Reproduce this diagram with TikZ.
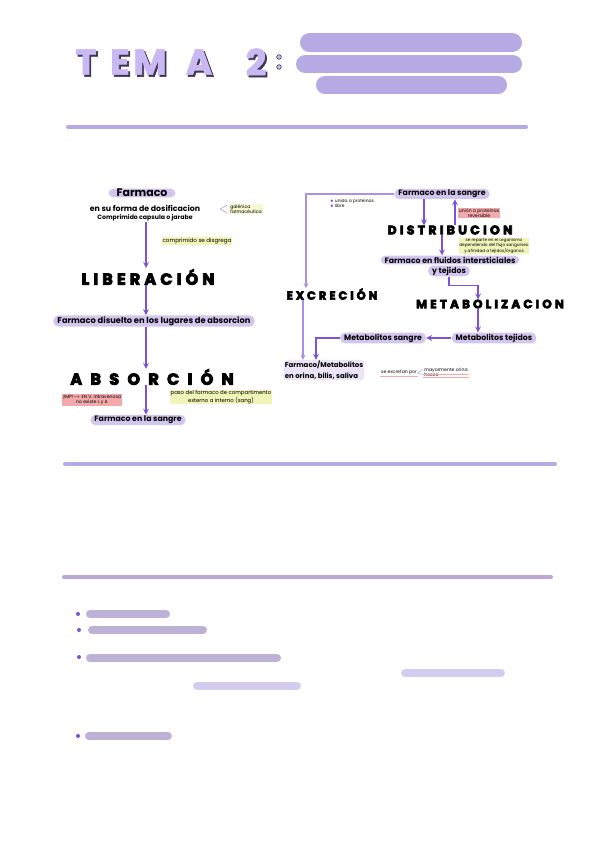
\documentclass[tikz,border=0pt]{standalone}
\usepackage{fontspec}
\setmainfont{Poppins}
\newfontfamily\spacedfont[LetterSpace=26, FakeBold=5]{Poppins}
\newfontfamily\titlefont[FakeBold=2]{Poppins}
\usetikzlibrary{arrows,positioning}
\definecolor{lilac}{HTML}{B5AAE3}
\definecolor{pillfill}{HTML}{D3C6EE}
\definecolor{arrowc}{HTML}{7B52D9}
\definecolor{paleline}{HTML}{A892E3}
\definecolor{mauve}{HTML}{BBA6D4}
\definecolor{greybar}{HTML}{BDB2D6}
\definecolor{softbar}{HTML}{D4CCF0}
\definecolor{hiyellow}{HTML}{F1F4B8}
\definecolor{hired}{HTML}{F3A9AC}
\definecolor{titledark}{HTML}{3E3550}
\definecolor{titlelight}{HTML}{C9B8F2}

\begin{document}
\begin{tikzpicture}[
	x=1pt, y=-1pt,
	pill/.style={fill=pillfill, rounded corners=5pt, inner xsep=4pt, inner ysep=1.2pt, font=\fontsize{7.8}{8.5}\selectfont\bfseries},
	stage/.style={font=\spacedfont\bfseries\fontsize{#1}{#1}\selectfont, inner sep=0pt},
	stage/.default=12,
	note/.style={font=\fontsize{4.6}{5.2}\selectfont, inner sep=0.8pt, align=center},
	arrow/.style={-stealth, line width=1.6pt, arrowc},
	feed/.style={-stealth, line width=1.2pt, paleline},
	bullet/.style={circle, fill=arrowc, inner sep=0pt, minimum size=4pt}
	]
	\useasboundingbox (0,0) rectangle (599,848);
	
	% Title
	\foreach \l/\x in {T/86, E/120, M/150, A/199, 2/256}{
		\node[font=\titlefont\bfseries\fontsize{36}{36}\selectfont, text=titledark] at (\x+1.8,64) {\l};
		\node[font=\titlefont\bfseries\fontsize{36}{36}\selectfont, text=titlelight] at (\x,62) {\l};
	}
	\draw[titledark, fill=titlelight, line width=0.6pt] (279,57) circle (2.3) (279,67) circle (2.3);
	
	% Title bars
	\draw[line cap=round, line width=19pt, lilac] (309.5,42.5) -- (512.5,42.5);
	\draw[line cap=round, line width=18pt, lilac] (305,64) -- (513,64);
	\draw[line cap=round, line width=18pt, lilac] (325,85) -- (498,85);
	\draw[line cap=round, line width=4pt, lilac] (68,127) -- (526,127);
	
	% Left flow: liberacion - absorcion
	\node[pill, font=\fontsize{11}{12}\selectfont\bfseries, inner ysep=0.5pt, inner xsep=8pt] (farm) at (142,193) {Farmaco};
	\node[font=\fontsize{7.8}{8.5}\selectfont\bfseries, inner sep=0.5pt] (dosif) at (145,208) {en su forma de dosificacion};
	\node[font=\fontsize{6.2}{7}\selectfont\bfseries, inner sep=0.5pt] (capsula) at (145,218) {Comprimido capsula o jarabe};
	\node[note, align=left, fill=hiyellow!60] (galen) at (246,209) {galénica\\farmacéutica};
	\draw[lilac, line width=0.7pt] ([xshift=-2pt,yshift=4pt]galen.west) -- ([xshift=-9pt]galen.west) -- ([xshift=-2pt,yshift=-4pt]galen.west);
	
	\node[stage=16] (liber) at (148,277) {LIBERACIÓN};
	\node[note, fill=hiyellow, font=\fontsize{5.6}{6}\selectfont] (disgrega) at (197,241) {comprimido se disgrega};
	\node[pill, font=\fontsize{8.3}{9}\selectfont\bfseries] (disuelto) at (154,321) {Farmaco disuelto en los lugares de absorcion};
	\node[stage=16] (absor) at (152,377) {\addfontfeature{LetterSpace=52}ABSORCIÓN};
	\node[note, fill=hired] (imp) at (92,400) {¡IMP!$\rightarrow$ EN V. intravenosa\\no existe L y A};
	\node[note, fill=hiyellow, font=\fontsize{5.4}{6.2}\selectfont] (paso) at (221,397) {paso del farmaco de compartimento\\externo a interno (sang)};
	\node[pill] (sangre) at (138,420) {Farmaco en la sangre};
	
	\draw[arrow] (capsula.south -| 146,0) -- (146,268);
	\draw[arrow] (liber.south -| 146,0) -- (disuelto.north -| 146,0);
	\draw[arrow] (disuelto.south -| 146,0) -- (absor.north -| 146,0);
	\draw[arrow] (absor.south -| 146,0) -- (sangre.north -| 146,0);
	
	% Right flow: distribucion - metabolizacion - excrecion
	\node[pill] (sangre2) at (442,194) {Farmaco en la sangre};
	\node[note, align=left, font=\fontsize{4.4}{5.4}\selectfont] (unida) at (352,203) {\textcolor{arrowc}{$\bullet$} unida a proteínas\\\textcolor{arrowc}{$\bullet$} libre};
	\node[stage=12.5] (distrib) at (450,230) {DISTRIBUCION};
	\node[note, fill=hired] (revers) at (479,213) {unión a proteínas\\reversible};
	\node[note, fill=hiyellow, font=\fontsize{4.2}{4.9}\selectfont] (reparte) at (494,246) {se reparte en el organismo\\dependiendo del flujo sanguíneo\\y afinidad a tejidos/órganos};
	\node[pill] (fluidos) at (450,260) {Farmaco en fluidos intersticiales};
	\node[pill] (tejidos) at (449,271) {y tejidos};
	\node[stage=12] (metab) at (490,304) {METABOLIZACION};
	\node[pill] (mtej) at (494,338) {Metabolitos tejidos};
	\node[pill] (msang) at (383,338) {Metabolitos sangre};
	\node[stage=11.5] (excre) at (332,294) {EXCRECIÓN};
	\node[fill=pillfill!45, rounded corners=3pt, inner sep=1pt, align=left, font=\fontsize{7}{10.5}\selectfont\bfseries] (orina) at (324,370) {Farmaco/Metabolitos\\en orina, bilis, saliva};
	\node[note] (excretan) at (399,373) {se excretan por};
	\node[note, align=left] (vias) at (446,372) {mayormente orina\\heces};
	\draw[hired, line width=0.8pt] (excretan.south west) -- (excretan.south east);
	\draw[hired, line width=0.6pt] ([yshift=2.8pt]vias.south west) -- ([yshift=2.8pt]vias.south east) (vias.south west) -- (vias.south east);
	\draw[lilac, line width=0.6pt] ([xshift=-1pt,yshift=2.5pt]vias.west) -- (excretan.east) -- ([xshift=-1pt,yshift=-2.5pt]vias.west);
	
	\draw[arrow] ([xshift=-18pt]sangre2.south) -- ([xshift=-18pt]sangre2.south |- distrib.north);
	\draw[arrow] ([xshift=13pt]sangre2.south |- distrib.north) -- ([xshift=13pt]sangre2.south);
	\draw[arrow] ([xshift=-8pt]distrib.south) -- ([xshift=-8pt]distrib.south |- fluidos.north);
	\draw[arrow] (tejidos.south) -- ++(0,9) -| ([xshift=-12pt]metab.north);
	\draw[arrow] ([xshift=-12pt]metab.south) -- ([xshift=-12pt]metab.south |- mtej.north);
	\draw[arrow] (mtej) -- (msang);
	\draw[arrow] (msang.west) -| ([xshift=-8pt]orina.north);
	\draw[feed] (sangre2.west) -| ([xshift=-26pt]excre.north);
	\draw[feed] ([xshift=-29pt]excre.south) -- ([xshift=-29pt]excre.south |- orina.north);
	
	% Separators
	\draw[line cap=round, line width=4pt, lilac] (65,464) -- (555,464);
	\draw[line cap=round, line width=4pt, mauve] (64,577) -- (551,577);
	
	% Bullet bars
	\node[bullet] (b1) at (78,614) {};
	\draw[line cap=round, line width=8pt, greybar] (90,614) -- (166,614);
	\node[bullet] (b2) at (79,630) {};
	\draw[line cap=round, line width=8pt, greybar] (92,630) -- (203,630);
	\node[bullet] (b3) at (79,657) {};
	\draw[line cap=round, line width=8pt, greybar] (90,658) -- (277,658);
	\draw[line cap=round, line width=8pt, softbar] (405,673) -- (501,673);
	\draw[line cap=round, line width=8pt, softbar] (197,686) -- (297,686);
	\node[bullet] (b4) at (78,736) {};
	\draw[line cap=round, line width=8pt, greybar] (89,736) -- (168,736);
\end{tikzpicture}
\end{document}
